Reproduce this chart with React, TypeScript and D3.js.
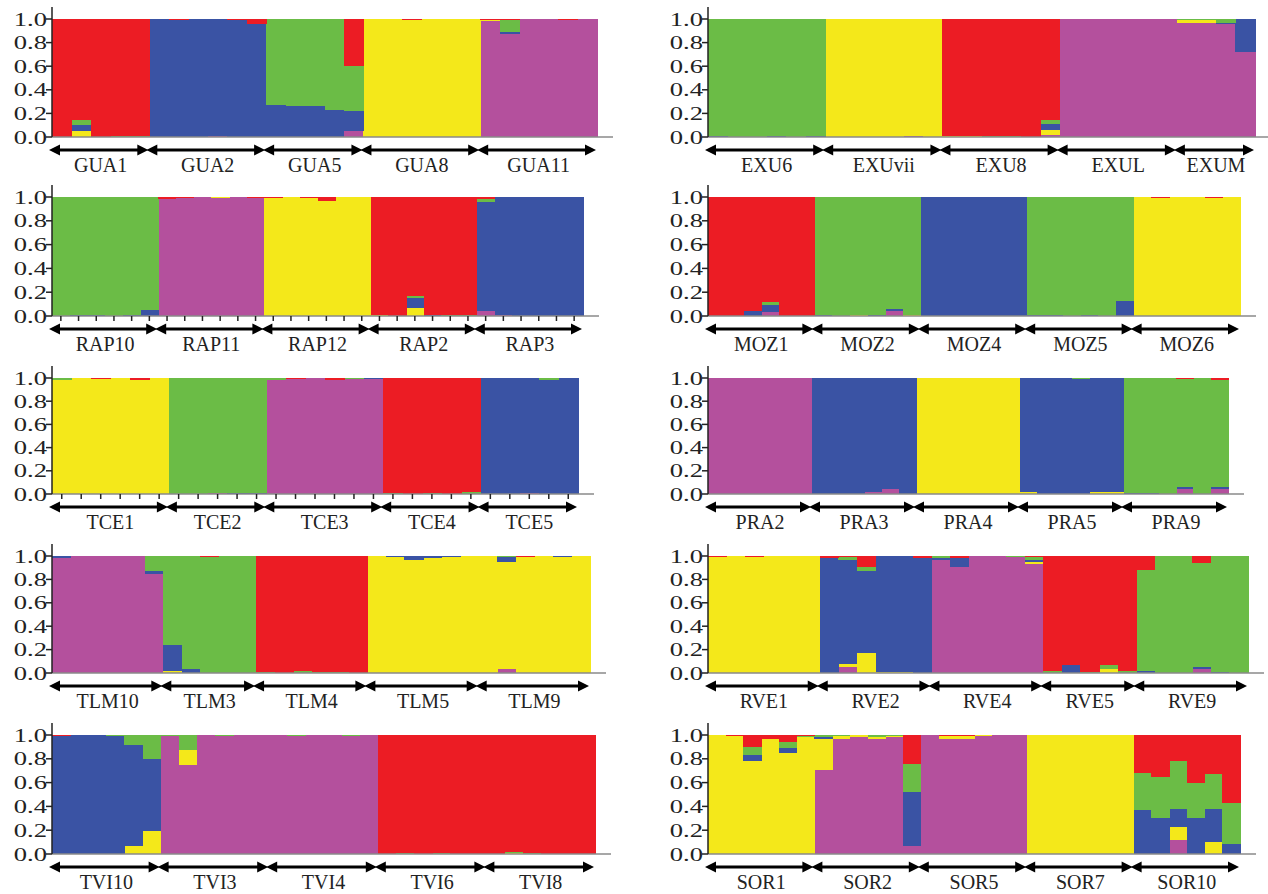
import React from "react";
import * as d3 from "d3";

// cluster order, bottom to top: purple, yellow, blue, green, red
const CLUSTER_COLORS = ["#B4509D", "#F4E81A", "#3A53A4", "#6BBC46", "#EC1C24"];
const Y_TICKS = [0, 0.2, 0.4, 0.6, 0.8, 1.0];

const GUA_POPS = ["GUA1", "GUA2", "GUA5", "GUA8", "GUA11"];
const GUA = [
  [[0, 0, 0, 0, 1], [0, 0.05, 0.05, 0.04, 0.86], [0, 0, 0, 0, 1], [0, 0, 0, 0.01, 0.99], [0, 0, 0, 0.01, 0.99]],
  [[0, 0, 1, 0, 0], [0, 0, 0.99, 0, 0.01], [0, 0, 1, 0, 0], [0.01, 0, 0.99, 0, 0], [0, 0, 0.99, 0, 0.01], [0, 0, 0.96, 0, 0.04]],
  [[0, 0, 0.27, 0.73, 0], [0, 0, 0.265, 0.735, 0], [0, 0, 0.26, 0.74, 0], [0, 0, 0.23, 0.77, 0], [0.05, 0, 0.17, 0.38, 0.4]],
  [[0, 1, 0, 0, 0], [0, 1, 0, 0, 0], [0, 0.99, 0, 0, 0.01], [0, 1, 0, 0, 0], [0, 1, 0, 0, 0], [0, 1, 0, 0, 0]],
  [[0.98, 0.01, 0, 0, 0.01], [0.87, 0, 0.02, 0.1, 0.01], [1, 0, 0, 0, 0], [1, 0, 0, 0, 0], [0.99, 0, 0, 0, 0.01], [1, 0, 0, 0, 0]],
];

const EXU_POPS = ["EXU6", "EXUvii", "EXU8", "EXUL", "EXUM"];
const EXU = [
  [[0, 0, 0.01, 0.99, 0], [0, 0, 0, 1, 0], [0, 0, 0, 1, 0], [0, 0, 0.01, 0.99, 0], [0, 0, 0, 1, 0], [0, 0, 0.01, 0.99, 0]],
  [[0, 1, 0, 0, 0], [0, 1, 0, 0, 0], [0, 1, 0, 0, 0], [0, 1, 0, 0, 0], [0.01, 0.99, 0, 0, 0], [0, 1, 0, 0, 0]],
  [[0, 0.01, 0, 0, 0.99], [0, 0.01, 0, 0, 0.99], [0, 0, 0, 0.01, 0.99], [0, 0, 0, 0.01, 0.99], [0, 0, 0, 0, 1], [0.02, 0.04, 0.05, 0.03, 0.86]],
  [[1, 0, 0, 0, 0], [1, 0, 0, 0, 0], [1, 0, 0, 0, 0], [1, 0, 0, 0, 0], [1, 0, 0, 0, 0], [1, 0, 0, 0, 0]],
  [[0.97, 0.02, 0, 0.01, 0], [0.97, 0.02, 0, 0.01, 0], [0.96, 0, 0.01, 0.03, 0], [0.72, 0, 0.28, 0, 0]],
];

const RAP_POPS = ["RAP10", "RAP11", "RAP12", "RAP2", "RAP3"];
const RAP = [
  [[0, 0, 0, 1, 0], [0, 0, 0.01, 0.99, 0], [0, 0, 0.01, 0.99, 0], [0, 0, 0, 1, 0], [0, 0, 0.01, 0.99, 0], [0, 0, 0.05, 0.95, 0]],
  [[0.98, 0, 0, 0, 0.02], [0.99, 0, 0, 0, 0.01], [1, 0, 0, 0, 0], [0.99, 0.01, 0, 0, 0], [1, 0, 0, 0, 0], [0.99, 0, 0, 0, 0.01]],
  [[0, 0.99, 0, 0, 0.01], [0, 1, 0, 0, 0], [0, 0.99, 0, 0, 0.01], [0, 0.97, 0, 0, 0.03], [0, 1, 0, 0, 0], [0, 1, 0, 0, 0]],
  [[0, 0.01, 0, 0, 0.99], [0, 0, 0, 0, 1], [0, 0.07, 0.08, 0.02, 0.83], [0, 0, 0.01, 0, 0.99], [0, 0, 0, 0.01, 0.99], [0, 0, 0, 0.01, 0.99]],
  [[0.04, 0, 0.92, 0.02, 0.02], [0.01, 0, 0.99, 0, 0], [0, 0, 1, 0, 0], [0, 0, 1, 0, 0], [0, 0, 1, 0, 0], [0, 0, 1, 0, 0]],
];

const MOZ_POPS = ["MOZ1", "MOZ2", "MOZ4", "MOZ5", "MOZ6"];
const MOZ = [
  [[0, 0, 0, 0, 1], [0, 0, 0, 0, 1], [0, 0, 0.04, 0, 0.96], [0.03, 0, 0.06, 0.03, 0.88], [0, 0, 0, 0, 1], [0, 0, 0, 0, 1]],
  [[0, 0, 0.01, 0.99, 0], [0, 0, 0, 1, 0], [0, 0.01, 0, 0.99, 0], [0, 0, 0.01, 0.99, 0], [0.04, 0, 0.02, 0.94, 0], [0, 0.01, 0, 0.99, 0]],
  [[0, 0, 1, 0, 0], [0, 0, 1, 0, 0], [0, 0, 1, 0, 0], [0, 0, 1, 0, 0], [0, 0, 1, 0, 0], [0, 0, 1, 0, 0]],
  [[0, 0, 0.01, 0.99, 0], [0, 0, 0.01, 0.99, 0], [0, 0, 0, 1, 0], [0, 0, 0.01, 0.99, 0], [0, 0, 0, 1, 0], [0, 0, 0.13, 0.87, 0]],
  [[0, 1, 0, 0, 0], [0, 0.99, 0, 0, 0.01], [0, 1, 0, 0, 0], [0, 1, 0, 0, 0], [0, 0.99, 0, 0, 0.01], [0, 1, 0, 0, 0]],
];

const TCE_POPS = ["TCE1", "TCE2", "TCE3", "TCE4", "TCE5"];
const TCE = [
  [[0, 0.98, 0, 0.02, 0], [0, 1, 0, 0, 0], [0, 0.99, 0, 0, 0.01], [0, 1, 0, 0, 0], [0, 0.98, 0, 0, 0.02], [0, 1, 0, 0, 0]],
  [[0, 0, 0, 1, 0], [0, 0, 0, 1, 0], [0.01, 0, 0, 0.99, 0], [0, 0, 0.01, 0.99, 0], [0, 0, 0.01, 0.99, 0]],
  [[0.98, 0, 0, 0.02, 0], [0.99, 0, 0, 0, 0.01], [1, 0, 0, 0, 0], [0.98, 0, 0, 0, 0.02], [0.99, 0, 0, 0.01, 0], [0.99, 0, 0.01, 0, 0]],
  [[0, 0, 0, 0.01, 0.99], [0, 0, 0, 0, 1], [0, 0, 0, 0.01, 0.99], [0, 0, 0, 0, 1], [0, 0, 0, 0.02, 0.98]],
  [[0, 0, 1, 0, 0], [0, 0, 1, 0, 0], [0.01, 0, 0.99, 0, 0], [0, 0, 0.98, 0.02, 0], [0, 0, 1, 0, 0]],
];

const PRA_POPS = ["PRA2", "PRA3", "PRA4", "PRA5", "PRA9"];
const PRA = [
  [[1, 0, 0, 0, 0], [1, 0, 0, 0, 0], [1, 0, 0, 0, 0], [1, 0, 0, 0, 0], [1, 0, 0, 0, 0], [1, 0, 0, 0, 0]],
  [[0, 0, 1, 0, 0], [0, 0, 1, 0, 0], [0, 0, 1, 0, 0], [0.02, 0, 0.98, 0, 0], [0.04, 0, 0.96, 0, 0], [0, 0, 1, 0, 0]],
  [[0, 1, 0, 0, 0], [0, 1, 0, 0, 0], [0, 1, 0, 0, 0], [0, 1, 0, 0, 0], [0, 1, 0, 0, 0], [0, 1, 0, 0, 0]],
  [[0, 0.02, 0.98, 0, 0], [0, 0, 1, 0, 0], [0, 0, 1, 0, 0], [0, 0, 0.99, 0.01, 0], [0, 0.02, 0.98, 0, 0], [0, 0.02, 0.98, 0, 0]],
  [[0, 0, 0.01, 0.99, 0], [0, 0, 0.01, 0.99, 0], [0, 0, 0, 1, 0], [0.04, 0, 0.02, 0.93, 0.01], [0, 0, 0, 1, 0], [0.04, 0, 0.02, 0.92, 0.02]],
];

const TLM_POPS = ["TLM10", "TLM3", "TLM4", "TLM5", "TLM9"];
const TLM = [
  [[0.98, 0, 0.02, 0, 0], [1, 0, 0, 0, 0], [1, 0, 0, 0, 0], [1, 0, 0, 0, 0], [1, 0, 0, 0, 0], [0.85, 0, 0.02, 0.13, 0]],
  [[0, 0.02, 0.22, 0.76, 0], [0, 0, 0.03, 0.97, 0], [0, 0, 0, 0.99, 0.01], [0, 0, 0, 1, 0], [0, 0, 0, 1, 0]],
  [[0, 0, 0, 0.01, 0.99], [0, 0, 0, 0, 1], [0, 0, 0, 0.02, 0.98], [0, 0, 0, 0.01, 0.99], [0, 0, 0, 0.01, 0.99], [0, 0, 0, 0, 1]],
  [[0, 1, 0, 0, 0], [0, 0.99, 0.01, 0, 0], [0, 0.97, 0.03, 0, 0], [0, 0.98, 0.02, 0, 0], [0, 0.99, 0.01, 0, 0], [0, 1, 0, 0, 0]],
  [[0, 1, 0, 0, 0], [0.03, 0.92, 0.04, 0.01, 0], [0, 0.99, 0, 0, 0.01], [0, 1, 0, 0, 0], [0, 0.99, 0.01, 0, 0], [0, 1, 0, 0, 0]],
];

const RVE_POPS = ["RVE1", "RVE2", "RVE4", "RVE5", "RVE9"];
const RVE = [
  [[0, 0.99, 0, 0, 0.01], [0, 1, 0, 0, 0], [0, 0.99, 0, 0, 0.01], [0, 1, 0, 0, 0], [0, 1, 0, 0, 0], [0, 1, 0, 0, 0]],
  [[0, 0, 0.98, 0, 0.02], [0.05, 0.03, 0.89, 0.02, 0.01], [0, 0.17, 0.7, 0.04, 0.09], [0, 0.01, 0.99, 0, 0], [0, 0.01, 0.99, 0, 0], [0, 0, 0.98, 0, 0.02]],
  [[0.97, 0, 0.01, 0.02, 0], [0.91, 0, 0.07, 0, 0.02], [1, 0, 0, 0, 0], [1, 0, 0, 0, 0], [0.99, 0, 0, 0.01, 0], [0.93, 0.02, 0.02, 0.02, 0.01]],
  [[0, 0, 0, 0.02, 0.98], [0, 0, 0.07, 0, 0.93], [0, 0, 0, 0.01, 0.99], [0, 0.03, 0, 0.04, 0.93], [0, 0, 0, 0.02, 0.98]],
  [[0, 0, 0.02, 0.86, 0.12], [0, 0, 0, 1, 0], [0, 0, 0, 1, 0], [0.03, 0, 0.02, 0.89, 0.06], [0, 0, 0.01, 0.99, 0], [0, 0, 0, 1, 0]],
];

const TVI_POPS = ["TVI10", "TVI3", "TVI4", "TVI6", "TVI8"];
const TVI = [
  [[0, 0, 0.99, 0, 0.01], [0, 0, 1, 0, 0], [0, 0, 1, 0, 0], [0, 0, 0.99, 0.01, 0], [0, 0.07, 0.85, 0.08, 0], [0, 0.19, 0.61, 0.2, 0]],
  [[0.99, 0, 0, 0.01, 0], [0.75, 0.12, 0, 0.13, 0], [1, 0, 0, 0, 0], [0.99, 0, 0, 0.01, 0], [1, 0, 0, 0, 0], [1, 0, 0, 0, 0]],
  [[1, 0, 0, 0, 0], [0.99, 0, 0, 0.01, 0], [1, 0, 0, 0, 0], [1, 0, 0, 0, 0], [0.99, 0, 0, 0.01, 0], [1, 0, 0, 0, 0]],
  [[0, 0, 0, 0, 1], [0, 0, 0, 0.01, 0.99], [0, 0, 0, 0, 1], [0, 0, 0, 0.01, 0.99], [0, 0, 0, 0, 1], [0, 0, 0, 0, 1]],
  [[0, 0, 0, 0, 1], [0, 0.01, 0, 0.01, 0.98], [0, 0, 0, 0.01, 0.99], [0, 0, 0, 0, 1], [0, 0, 0, 0, 1], [0, 0, 0, 0, 1]],
];

const SOR_POPS = ["SOR1", "SOR2", "SOR5", "SOR7", "SOR10"];
const SOR = [
  [[0, 1, 0, 0, 0], [0, 0.99, 0, 0, 0.01], [0, 0.78, 0.05, 0.07, 0.1], [0, 0.97, 0, 0, 0.03], [0, 0.85, 0.04, 0.05, 0.06], [0, 0.98, 0, 0.01, 0.01]],
  [[0.71, 0.26, 0.01, 0.02, 0], [0.97, 0.02, 0, 0.01, 0], [0.98, 0.02, 0, 0, 0], [0.97, 0.01, 0, 0.02, 0], [0.98, 0.01, 0, 0.01, 0], [0.07, 0, 0.45, 0.24, 0.24]],
  [[1, 0, 0, 0, 0], [0.97, 0.02, 0, 0, 0.01], [0.97, 0.02, 0, 0, 0.01], [0.99, 0.01, 0, 0, 0], [1, 0, 0, 0, 0], [1, 0, 0, 0, 0]],
  [[0, 1, 0, 0, 0], [0, 1, 0, 0, 0], [0, 1, 0, 0, 0], [0, 1, 0, 0, 0], [0, 1, 0, 0, 0], [0, 1, 0, 0, 0]],
  [[0, 0, 0.37, 0.31, 0.32], [0, 0, 0.3, 0.35, 0.35], [0.12, 0.11, 0.15, 0.4, 0.22], [0, 0, 0.3, 0.3, 0.4], [0, 0.1, 0.28, 0.29, 0.33], [0, 0, 0.08, 0.35, 0.57]],
];

// layout: one entry per panel
const ROW_TOP = [19, 197, 378, 556, 735];
const ROW_BOTTOM = [137, 316, 494, 673, 854];
const COL_X = [52, 708];

const PANELS = [
  { pops: GUA_POPS, data: GUA, col: 0, row: 0, end: 597, ticks: false },
  { pops: EXU_POPS, data: EXU, col: 1, row: 0, end: 1255, ticks: false },
  { pops: RAP_POPS, data: RAP, col: 0, row: 1, end: 583, ticks: true },
  { pops: MOZ_POPS, data: MOZ, col: 1, row: 1, end: 1240, ticks: false },
  { pops: TCE_POPS, data: TCE, col: 0, row: 2, end: 578, ticks: true },
  { pops: PRA_POPS, data: PRA, col: 1, row: 2, end: 1228, ticks: false },
  { pops: TLM_POPS, data: TLM, col: 0, row: 3, end: 590, ticks: false },
  { pops: RVE_POPS, data: RVE, col: 1, row: 3, end: 1248, ticks: false },
  { pops: TVI_POPS, data: TVI, col: 0, row: 4, end: 595, ticks: false },
  { pops: SOR_POPS, data: SOR, col: 1, row: 4, end: 1240, ticks: false },
];

const textStyle = { fontFamily: '"Liberation Serif", "DejaVu Serif", serif' };

function Arrow({ x1, x2, y }: { x1: number; x2: number; y: number }) {
  const hl = 11, hw = 5.5;
  return (
    <g>
      <line x1={x1 + hl - 1} x2={x2 - hl + 1} y1={y} y2={y} stroke="#000" strokeWidth={3} />
      <path d={`M${x1},${y}L${x1 + hl},${y - hw}L${x1 + hl},${y + hw}Z`} fill="#000" />
      <path d={`M${x2},${y}L${x2 - hl},${y - hw}L${x2 - hl},${y + hw}Z`} fill="#000" />
    </g>
  );
}

function Panel({ pops, data, x0, x1, top, bottom, ticks }: any) {
  const rows: number[][] = data.flat();
  const n = rows.length;
  const x = d3.scaleLinear().domain([0, n]).range([x0, x1]);
  const y = d3.scaleLinear().domain([0, 1]).range([bottom, top]);
  const series = d3
    .stack<number[], number>()
    .keys(d3.range(5))
    .value((d, k) => d[k])
    .offset(d3.stackOffsetExpand)(rows);

  const bounds: number[] = [0];
  data.forEach((p: number[][]) => bounds.push(bounds[bounds.length - 1] + p.length));
  const fmt = d3.format(".1f");

  return (
    <g>
      <g shapeRendering="crispEdges">
        {series.map((s) => (
          <g key={s.key} fill={CLUSTER_COLORS[s.key]}>
            {s.map((d, i) =>
              d[1] - d[0] > 0.0005 ? (
                <rect
                  key={i}
                  x={x(i)}
                  width={x(i + 1) - x(i) + 0.5}
                  y={y(d[1])}
                  height={Math.max(1, y(d[0]) - y(d[1]))}
                />
              ) : null
            )}
          </g>
        ))}
      </g>
      <line x1={x0} x2={x1 + 16} y1={bottom} y2={bottom} stroke="#8a8a8a" strokeWidth={1.5} />
      <line x1={x0} x2={x0} y1={top - 12} y2={bottom} stroke="#222" strokeWidth={1.5} />
      {Y_TICKS.map((t) => (
        <g key={t}>
          <line x1={x0 - 6} x2={x0} y1={y(t)} y2={y(t)} stroke="#222" strokeWidth={1.5} />
          <text
            transform={`translate(${x0 - 5},${y(t)}) scale(1.4,1)`}
            dy="0.35em"
            textAnchor="end"
            style={textStyle}
            fontSize={19}
            fill="#222"
          >
            {fmt(t)}
          </text>
        </g>
      ))}
      {ticks &&
        d3.range(n).map((i) => (
          <line
            key={i}
            x1={x(i + 0.5)}
            x2={x(i + 0.5)}
            y1={bottom}
            y2={bottom + 5}
            stroke="#222"
            strokeWidth={1.5}
          />
        ))}
      {pops.map((name: string, j: number) => {
        const a = x(bounds[j]);
        const b = x(bounds[j + 1]);
        return (
          <g key={name}>
            <Arrow x1={a - 3} x2={b - 1} y={bottom + 13} />
            <text
              x={(a + b) / 2}
              y={bottom + 35}
              textAnchor="middle"
              style={textStyle}
              fontSize={20}
              fill="#222"
            >
              {name}
            </text>
          </g>
        );
      })}
    </g>
  );
}

export default function App() {
  return (
    <svg
      width={1268}
      height={894}
      style={{ position: "absolute", left: 0, top: 0, background: "#fff" }}
    >
      <rect width={1268} height={894} fill="#fff" />
      {PANELS.map((p, i) => (
        <Panel
          key={i}
          pops={p.pops}
          data={p.data}
          x0={COL_X[p.col]}
          x1={p.end}
          top={ROW_TOP[p.row]}
          bottom={ROW_BOTTOM[p.row]}
          ticks={p.ticks}
        />
      ))}
    </svg>
  );
}
